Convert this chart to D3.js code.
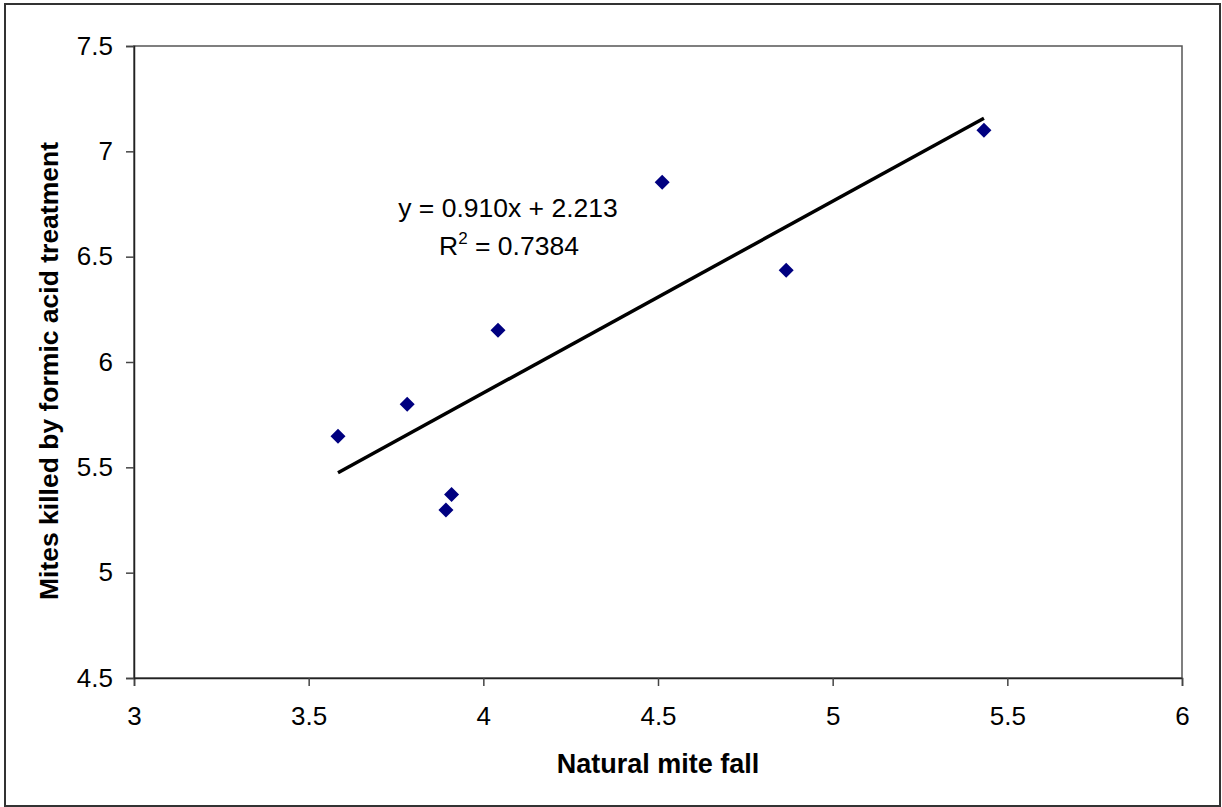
<!DOCTYPE html>
<html>
<head>
<meta charset="utf-8">
<script src="https://cdn.jsdelivr.net/npm/d3@7"></script>
<style>
  body { margin: 0; background: #fff; }
  svg { display: block; font-family: "Liberation Sans", Arial, sans-serif; }
</style>
</head>
<body>
<svg id="chart" width="1222" height="807"></svg>
<script>
// Data
const naturalFall = [3.584, 3.782, 4.042, 3.909, 3.893, 4.512, 4.867, 5.433];
const killedByAcid = [5.648, 5.800, 6.151, 5.371, 5.298, 6.853, 6.435, 7.100];
const xTicks = [3, 3.5, 4, 4.5, 5, 5.5, 6];
const yTicks = [4.5, 5, 5.5, 6, 6.5, 7, 7.5];
const slope = 0.910, intercept = 2.213;
const eqLabel = "y = 0.910x + 2.213";
const r2Value = "0.7384";

const svg = d3.select('#chart');
const plotLeft = 134, plotRight = 1182, plotTop = 46, plotBottom = 678;

// Outer chart border
svg.append('rect')
    .attr('x', 5).attr('y', 4)
    .attr('width', 1215).attr('height', 802)
    .attr('fill', 'none')
    .attr('stroke', '#333')
    .attr('stroke-width', 2);

const x = d3.scaleLinear().domain([3, 6]).range([plotLeft, plotRight]);
const y = d3.scaleLinear().domain([4.5, 7.5]).range([plotBottom, plotTop]);

// Plot area border
svg.append('rect')
    .attr('x', plotLeft).attr('y', plotTop)
    .attr('width', plotRight - plotLeft).attr('height', plotBottom - plotTop)
    .attr('fill', 'none')
    .attr('stroke', '#555')
    .attr('stroke-width', 1.5);

// Axes
const xAxis = svg.append('g')
    .attr('transform', `translate(0,${plotBottom})`)
    .call(d3.axisBottom(x).tickValues(xTicks).tickFormat(d3.format('')).tickSize(8).tickPadding(21));
const yAxis = svg.append('g')
    .attr('transform', `translate(${plotLeft},0)`)
    .call(d3.axisLeft(y).tickValues(yTicks).tickFormat(d3.format('')).tickSize(8).tickPadding(13));

[xAxis, yAxis].forEach(g => {
    g.select('.domain').attr('stroke', '#222').attr('stroke-width', 1.5);
    g.selectAll('.tick line').attr('stroke', '#444').attr('stroke-width', 1.5);
    g.selectAll('.tick text')
        .attr('fill', '#000')
        .style('font-size', '26px')
        .style('font-family', '"Liberation Sans", Arial, sans-serif');
});

// Trendline over the data range
const xMin = d3.min(naturalFall), xMax = d3.max(naturalFall);
svg.append('line')
    .attr('x1', x(xMin)).attr('y1', y(slope * xMin + intercept))
    .attr('x2', x(xMax)).attr('y2', y(slope * xMax + intercept))
    .attr('stroke', '#000')
    .attr('stroke-width', 3.5);

// Diamond markers
const pts = naturalFall.map((v, i) => ({ x: v, y: killedByAcid[i] }));
svg.append('g')
    .selectAll('path')
    .data(pts)
    .join('path')
    .attr('transform', d => `translate(${x(d.x)},${y(d.y)})`)
    .attr('d', 'M0,-7.5L7.5,0L0,7.5L-7.5,0Z')
    .attr('fill', '#000080');

// Equation labels
svg.append('text')
    .attr('x', 508).attr('y', 217)
    .attr('text-anchor', 'middle')
    .style('font-size', '26.5px')
    .text(eqLabel);
const r2 = svg.append('text')
    .attr('x', 509).attr('y', 255)
    .attr('text-anchor', 'middle')
    .style('font-size', '26.5px');
r2.append('tspan').text('R');
r2.append('tspan').attr('dy', -11).style('font-size', '17px').text('2');
r2.append('tspan').attr('dy', 11).text(' = ' + r2Value);

// Axis titles
svg.append('text')
    .attr('x', 658).attr('y', 773)
    .attr('text-anchor', 'middle')
    .style('font-size', '27px')
    .style('font-weight', 'bold')
    .text('Natural mite fall');
svg.append('text')
    .attr('transform', 'translate(58,371) rotate(-90)')
    .attr('text-anchor', 'middle')
    .style('font-size', '26.5px')
    .style('font-weight', 'bold')
    .text('Mites killed by formic acid treatment');
</script>
</body>
</html>
